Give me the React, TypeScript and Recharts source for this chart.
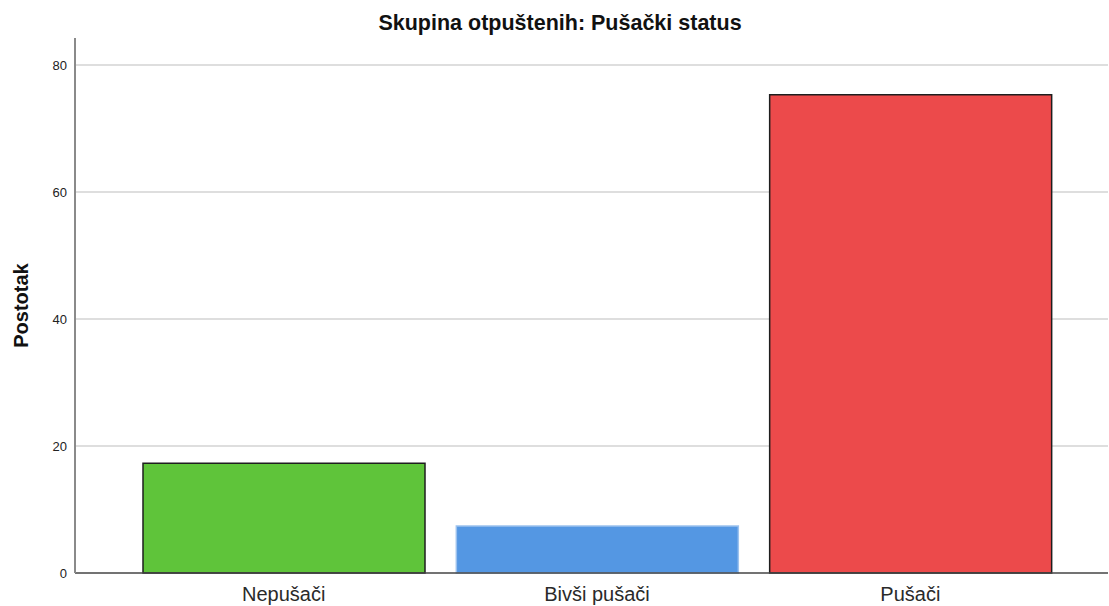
import React from "react";
import { BarChart, Bar, XAxis, YAxis, Cell, Label, CartesianGrid } from "recharts";

const categories = ["Nepušači", "Bivši pušači", "Pušači"];
const percents = [17.3, 7.4, 75.3];
const yTicks = [0, 20, 40, 60, 80];
const gridValues = [20, 40, 60, 80];
const fills = ["#5fc43a", "#5497e3", "#ec4a4b"];
const strokes = ["#1e1e1e", "#9cc2ee", "#1e1e1e"];

const data = categories.map((name, i) => ({ name, value: percents[i] }));

const App: React.FC = () => {
  return (
    <div
      style={{
        position: "absolute",
        left: 0,
        top: 0,
        width: 1109,
        height: 606,
        background: "#fff",
        fontFamily: "'Liberation Sans', Arial, sans-serif",
      }}
    >
      <div
        style={{
          position: "absolute",
          top: 12,
          left: 0,
          width: 1120,
          textAlign: "center",
          fontWeight: "bold",
          fontSize: 21.5,
          lineHeight: "22px",
          color: "#111",
        }}
      >
        Skupina otpuštenih: Pušački status
      </div>
      <BarChart
        width={1109}
        height={606}
        data={data}
        margin={{ top: 38, right: 1, bottom: 0, left: 0 }}
      >
        <CartesianGrid
          vertical={false}
          horizontalValues={gridValues}
          stroke="#d3d3d3"
          strokeWidth={1.5}
        />
        <XAxis
          dataKey="name"
          height={33}
          padding={{ left: 52, right: 41 }}
          tickLine={false}
          tickSize={0}
          tickMargin={14}
          stroke="#444"
          strokeWidth={1.5}
          tick={{ fill: "#2a2a2a", fontSize: 20 }}
        />
        <YAxis
          width={75}
          domain={[0, 84.25]}
          ticks={yTicks}
          tickLine={false}
          tickSize={0}
          tickMargin={8}
          stroke="#8a8a8a"
          strokeWidth={2}
          tick={{ fill: "#222", fontSize: 13 }}
        >
          <Label
            value="Postotak"
            angle={-90}
            position="insideLeft"
            offset={21}
            style={{ fontWeight: "bold", fontSize: 20, fill: "#111", textAnchor: "middle" }}
          />
        </YAxis>
        <Bar dataKey="value" barSize={282} isAnimationActive={false} strokeWidth={1.5}>
          {data.map((d, i) => (
            <Cell key={d.name} fill={fills[i]} stroke={strokes[i]} />
          ))}
        </Bar>
      </BarChart>
    </div>
  );
};

export default App;
